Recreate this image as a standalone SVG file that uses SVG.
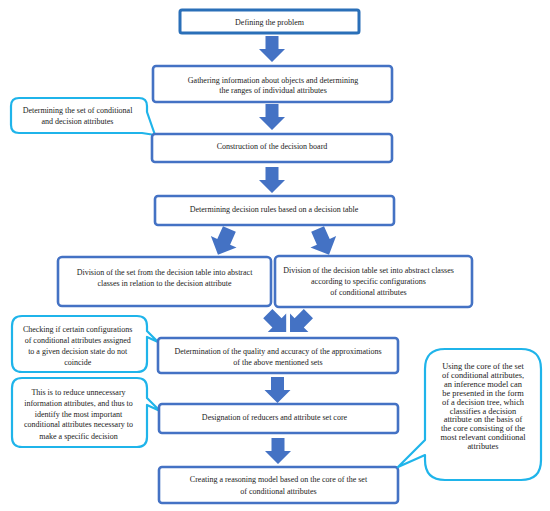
<svg xmlns="http://www.w3.org/2000/svg" xmlns:xlink="http://www.w3.org/1999/xlink" width="550" height="511" viewBox="0 0 550 511">
<style>
.box{fill:#fff;stroke:#4472c4;stroke-width:2.6}
.box1{fill:#fff;stroke:#2a6fb8;stroke-width:3}
.call{fill:#fff;stroke:#1fb4ea;stroke-width:2.2;stroke-linejoin:round}
.arr{fill:#4472c4}
text{font-family:"Liberation Serif","Times New Roman",serif;font-size:8px;fill:#1a1a1a;text-anchor:middle}
.t4{font-size:8.4px}
</style>
<defs>
<path id="arrow" d="M-6.5,0 H6.5 V13 H13 L0,26 L-13,13 H-6.5 Z"/>
</defs>
<rect width="550" height="511" fill="#fff"/>

<g id="connectors" class="arr">
<use xlink:href="#arrow" href="#arrow" transform="translate(272,36)"/>
<use xlink:href="#arrow" href="#arrow" transform="translate(272,104)"/>
<use xlink:href="#arrow" href="#arrow" transform="translate(272,167)"/>
<use xlink:href="#arrow" href="#arrow" transform="translate(229.4,229) rotate(24) scale(1.08)"/>
<use xlink:href="#arrow" href="#arrow" transform="translate(317.6,229) rotate(-24) scale(1.08)"/>
<use xlink:href="#arrow" href="#arrow" transform="translate(267.8,313.6) rotate(-45)"/>
<use xlink:href="#arrow" href="#arrow" transform="translate(308.4,313.6) rotate(45)"/>
<use xlink:href="#arrow" href="#arrow" transform="translate(277.5,377)"/>
<use xlink:href="#arrow" href="#arrow" transform="translate(278,438)"/>
</g>

<g id="n1">
<rect class="box1" x="180" y="10" width="179" height="23" rx="2"/>
<text x="269.5" y="24.8">Defining the problem</text>
</g>
<g id="n2">
<rect class="box" x="153" y="66" width="239" height="36" rx="3"/>
<text x="273" y="82.8">Gathering information about objects and determining</text>
<text x="273" y="92.8">the ranges of individual attributes</text>
</g>
<g id="c1">
<path class="call" d="M19,98 H139 Q147,98 147,106 V112 L155,135 L142,133 H19 Q11,133 11,125 V106 Q11,98 19,98 Z"/>
<text x="77.5" y="112.8">Determining the set of conditional</text>
<text x="77.5" y="123.6">and decision attributes</text>
</g>
<g id="n3">
<rect class="box" x="152" y="134" width="240" height="28" rx="3"/>
<text x="272" y="148.8">Construction of the decision board</text>
</g>
<g id="n4">
<rect class="box" x="155" y="196" width="239" height="29" rx="3"/>
<text x="274" y="211.8">Determining decision rules based on a decision table</text>
</g>
<g id="n5a">
<rect class="box" x="58" y="257" width="213" height="49" rx="4"/>
<text x="164.5" y="275">Division of the set from the decision table into abstract</text>
<text x="164.5" y="285.6">classes in relation to the decision attribute</text>
</g>
<g id="n5b">
<rect class="box" x="275" y="256" width="197" height="51" rx="4"/>
<text x="368.5" y="272.8">Division of the decision table set into abstract classes</text>
<text x="368.5" y="284.2">according to specific configurations</text>
<text x="368.5" y="295">of conditional attributes</text>
</g>
<g id="c2">
<path class="call" d="M22,316 H137 Q147,316 147,326 V331 L158,342 L147,337 V362 Q147,372 137,372 H22 Q12,372 12,362 V326 Q12,316 22,316 Z"/>
<text x="77.7" y="331.8">Checking if certain configurations</text>
<text x="77.7" y="342.8">of conditional attributes assigned</text>
<text x="77.7" y="353.8">to a given decision state do not</text>
<text x="77.7" y="364.6">coincide</text>
</g>
<g id="n6">
<rect class="box" x="158" y="338" width="240" height="35" rx="3"/>
<text x="278" y="353.8">Determination of the quality and accuracy of the approximations</text>
<text x="278" y="365.4">of the above mentioned sets</text>
</g>
<g id="c3">
<path class="call" d="M22,378 H137 Q147,378 147,388 V398 L160,411 L147,405 V437 Q147,447 137,447 H22 Q12,447 12,437 V388 Q12,378 22,378 Z"/>
<text x="78.5" y="394.8">This is to reduce unnecessary</text>
<text x="78.5" y="405.8">information attributes, and thus to</text>
<text x="78.5" y="416.6">identify the most important</text>
<text x="78.5" y="427.3">conditional attributes necessary to</text>
<text x="78.5" y="438.6">make a specific decision</text>
</g>
<g id="n7">
<rect class="box" x="159" y="404" width="239" height="29" rx="3"/>
<text x="274.5" y="419.8">Designation of reducers and attribute set core</text>
</g>
<g id="n8">
<rect class="box" x="159" y="467" width="239" height="36" rx="3"/>
<text x="278.5" y="481.8">Creating a reasoning model based on the core of the set</text>
<text x="278.5" y="493.6">of conditional attributes</text>
</g>
<g id="c4">
<path class="call" d="M445,349 H521 Q541,349 541,369 V460 Q541,480 521,480 H445 Q425,480 425,460 V455 L398,467 L425,440 V369 Q425,349 445,349 Z"/>
<text class="t4" x="483" y="368.8">Using the core of the set</text>
<text class="t4" x="483" y="377.8">of conditional attributes,</text>
<text class="t4" x="483" y="386.8">an inference model can</text>
<text class="t4" x="483" y="395.8">be presented in the form</text>
<text class="t4" x="483" y="404.8">of a decision tree, which</text>
<text class="t4" x="483" y="413.8">classifies a decision</text>
<text class="t4" x="483" y="422.3">attribute on the basis of</text>
<text class="t4" x="483" y="430.8">the core consisting of the</text>
<text class="t4" x="483" y="439.8">most relevant conditional</text>
<text class="t4" x="483" y="448.6">attributes</text>
</g>
</svg>
